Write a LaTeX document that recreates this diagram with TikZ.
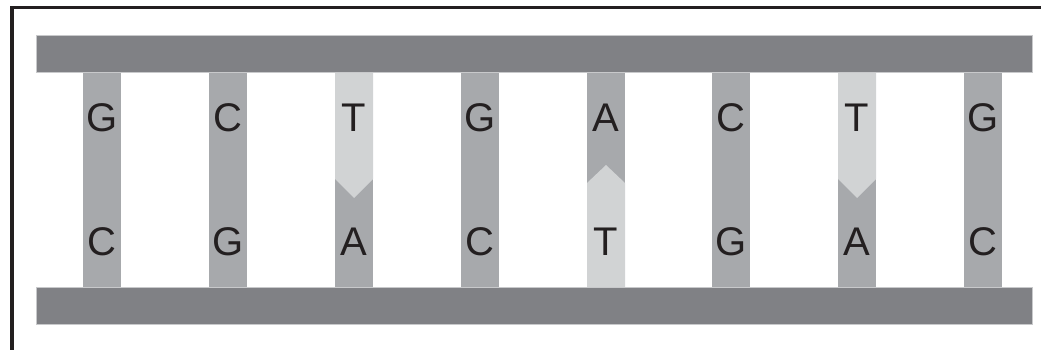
\documentclass[tikz,border=0pt]{standalone}
\usepackage{fontspec}
\setmainfont{Liberation Sans}
\definecolor{bargray}{HTML}{808185}
\definecolor{runggray}{HTML}{A7A9AC}
\definecolor{lightgray2}{HTML}{D1D3D4}
\definecolor{edgegray}{HTML}{C8C9CB}
\definecolor{textdark}{HTML}{231F20}
\definecolor{framedark}{HTML}{231F20}
\begin{document}
\begin{tikzpicture}[x=1pt,y=-1pt,
  bar/.style={fill=bargray,draw=edgegray,line width=0.6pt},
  rung/.style={fill=runggray},
  light/.style={fill=lightgray2},
  base/.style={anchor=base,inner sep=0pt,text=textdark,font=\fontsize{40}{40}\selectfont}]
\useasboundingbox (0,0) rectangle (1041,350);
% frame
\draw[framedark,line width=3.2pt] (12,350) -- (12,7.5) -- (1041,7.5);
% rungs
\foreach \x in {83,209,335,461,587,712,838,964}{
  \fill[rung] (\x,72) rectangle ++(38,215);
}
% light (thymine) parts
\foreach \x in {335,838}{
  \fill[light] (\x,72) -- ++(38,0) -- ++(0,107) -- ++(-19,19) -- ++(-19,-19) -- cycle;
}
\fill[light] (587,287) -- ++(38,0) -- ++(0,-104) -- ++(-19,-18) -- ++(-19,18) -- cycle;
% backbone bars
\draw[bar] (36,35) rectangle (1032,72);
\draw[bar] (36,287) rectangle (1032,324);
% letters
\foreach \x/\t/\b [count=\i] in {83/G/C,209/C/G,335/T/A,461/G/C,587/A/T,712/C/G,838/T/A,964/G/C}{
  \node[base] (top\i) at (\x+19,131.5) {\t};
  \node[base] (bot\i) at (\x+19,255.5) {\b};
}
\end{tikzpicture}
\end{document}
